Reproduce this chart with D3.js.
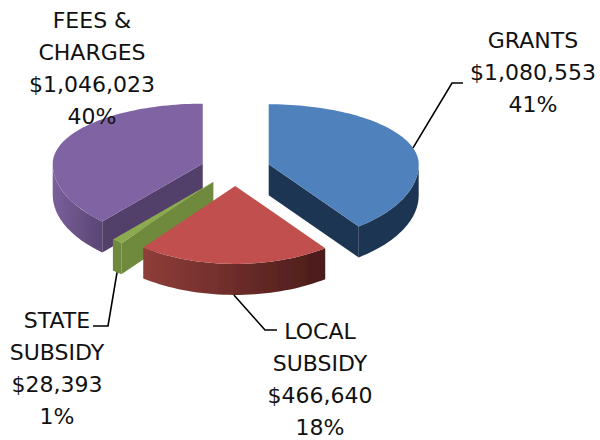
<!DOCTYPE html>
<html>
<head>
<meta charset="utf-8">
<script src="https://cdn.jsdelivr.net/npm/d3@7"></script>
<style>
  html, body { margin: 0; padding: 0; background: #fff; }
  text { font-family: "DejaVu Sans", sans-serif; font-size: 22px; fill: #111; text-anchor: middle; }
</style>
</head>
<body>
<div id="chart"></div>
<script>
const categories = ["GRANTS", "LOCAL SUBSIDY", "STATE SUBSIDY", "FEES & CHARGES"];
const amounts = [1080553, 466640, 28393, 1046023];
const percents = ["41%", "18%", "1%", "40%"];
const labelLines = [["GRANTS"], ["LOCAL", "SUBSIDY"], ["STATE", "SUBSIDY"], ["FEES &", "CHARGES"]];

const width = 600, height = 440;
const cx = 235.5, cy = 168;
const rx = 150, ry = 60, depth = 31;
const explode = 0.23;
const stretchX = 0.2, stretchY = 0.3;

const topColors = ["#4f81bd", "#c0504d", "#8cab4f", "#8064a2"];
const sideColors = ["#1f3552", "#5a2422", "#6f8a3c", "#533f6b"];
const rimStops = [["#1f3552", "#1f3552"], ["#8f3d39", "#4a1c1a"], ["#6f8a3c", "#6f8a3c"], ["#7a5f9b", "#5a4573"]];

// labels: centre x, first baseline y, line gap
const labelPos = [[533, 48, 32], [320, 339, 32], [57, 328, 32], [92, 28, 32]];
// leader elbow points, index matches categories (fees has none)
const leaders = [[[452, 83], [463, 83]], [[265, 330], [277, 330]], [[108, 326], [93, 326]], null];

const svg = d3.select("#chart").append("svg").attr("width", width).attr("height", height);
const defs = svg.append("defs");
defs.append("filter").attr("id", "soft").append("feGaussianBlur").attr("stdDeviation", 0.5);

const arcs = d3.pie().sort(null)(amounts);
const fmt = d3.format("$,");

// squashed ellipse, the front half is stretched a bit for the perspective look
function project(a, r) {
  const c = Math.cos(a), s = Math.sin(a);
  const front = c < 0 ? c * c : 0;
  return [rx * r * s * (1 + stretchX * front), -ry * r * c * (1 + stretchY * front)];
}

const line = d3.line();
const chart = svg.append("g").attr("filter", "url(#soft)");

function sliceOrigin(d) {
  const m = (d.startAngle + d.endAngle) / 2;
  const p = project(m, explode);
  return [cx + p[0], cy + p[1]];
}

function rimPoints(o, a0, a1) {
  const n = Math.max(2, Math.ceil((a1 - a0) / 0.03));
  return d3.range(n + 1).map(i => {
    const a = a0 + (a1 - a0) * i / n;
    const p = project(a, 1);
    return [o[0] + p[0], o[1] + p[1]];
  });
}

function drawSlice(i) {
  const d = arcs[i];
  const o = sliceOrigin(d);
  const g = chart.append("g").attr("class", "slice");

  // side walls along the two straight edges, only if they face the viewer
  [[d.startAngle, d.startAngle - Math.PI / 2], [d.endAngle, d.endAngle + Math.PI / 2]].forEach(e => {
    if (Math.cos(e[1]) < 0) {
      const p = project(e[0], 1);
      const q = [o[0] + p[0], o[1] + p[1]];
      g.append("path")
        .attr("d", line([o, q, [q[0], q[1] + depth], [o[0], o[1] + depth]]) + "Z")
        .attr("fill", sideColors[i]);
    }
  });

  // outer wall, the part of the rim on the front half
  const a0 = Math.max(d.startAngle, Math.PI / 2), a1 = Math.min(d.endAngle, Math.PI * 1.5);
  if (a1 > a0) {
    const rim = rimPoints(o, a0, a1);
    const xs = d3.extent(rim, p => p[0]);
    const gradId = "rim" + i;
    const grad = defs.append("linearGradient").attr("id", gradId)
      .attr("gradientUnits", "userSpaceOnUse")
      .attr("x1", xs[0]).attr("x2", xs[1]).attr("y1", 0).attr("y2", 0);
    rimStops[i].forEach((c, k) => grad.append("stop").attr("offset", k).attr("stop-color", c));
    const low = rim.map(p => [p[0], p[1] + depth]).reverse();
    g.append("path").attr("d", line(rim.concat(low)) + "Z").attr("fill", "url(#" + gradId + ")");
  }

  // top face
  g.append("path")
    .attr("d", line([o].concat(rimPoints(o, d.startAngle, d.endAngle))) + "Z")
    .attr("fill", topColors[i]);
}

// painter's order: back slices first
[3, 0, 2, 1].forEach(drawSlice);

// leader lines start on the rim at the middle of the slice
arcs.forEach((d, i) => {
  if (!leaders[i]) return;
  const m = (d.startAngle + d.endAngle) / 2;
  const o = sliceOrigin(d);
  const p = project(m, 1);
  const drop = Math.cos(m) < -0.5 ? depth : 0;
  svg.append("path")
    .attr("d", line([[o[0] + p[0], o[1] + p[1] + drop]].concat(leaders[i])))
    .attr("fill", "none").attr("stroke", "#000").attr("stroke-width", 1.6);
});

// labels
categories.forEach((c, i) => {
  const pos = labelPos[i];
  const rows = labelLines[i].concat([fmt(amounts[i]), percents[i]]);
  svg.append("g").selectAll("text").data(rows).enter().append("text")
    .attr("x", pos[0])
    .attr("y", (r, k) => pos[1] + k * pos[2])
    .text(r => r);
});
</script>
</body>
</html>
